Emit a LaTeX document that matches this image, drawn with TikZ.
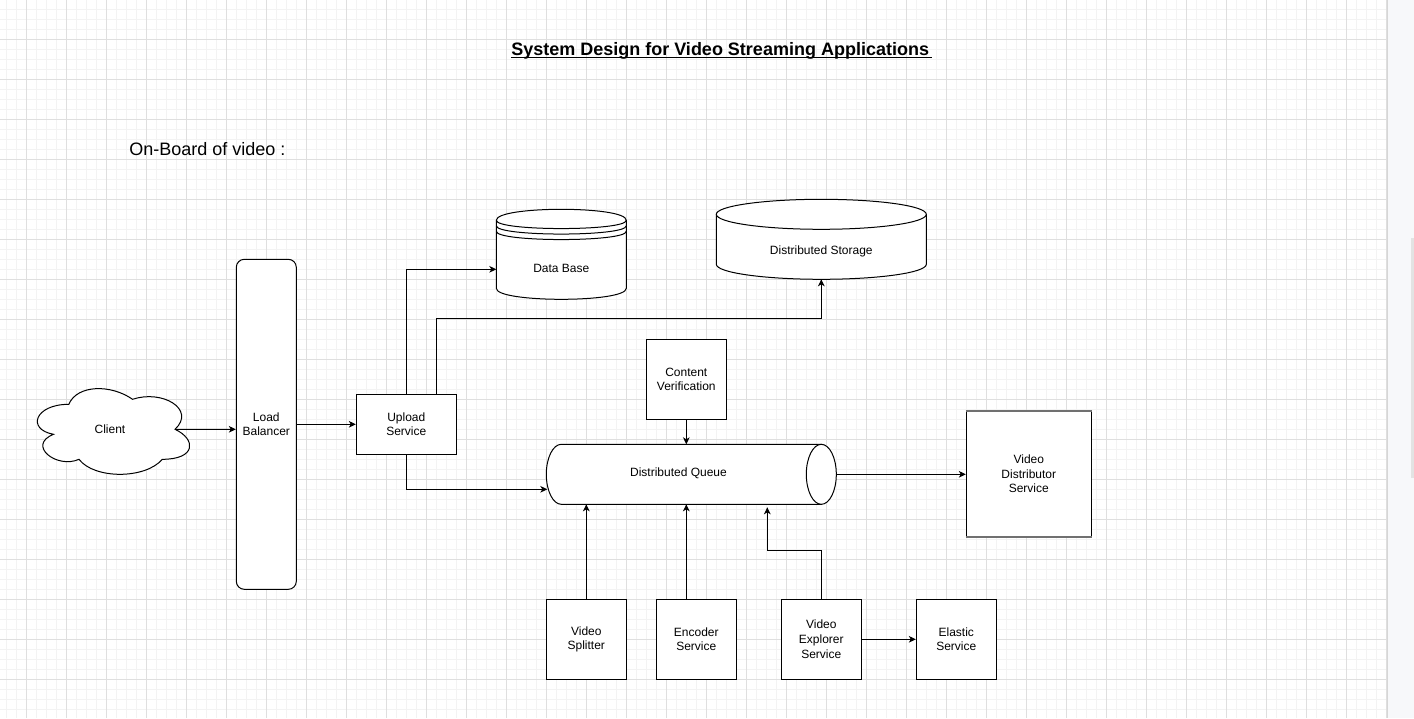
\documentclass[tikz,border=0pt]{standalone}
\usepackage{fontspec}
\setmainfont{Liberation Sans}
\usetikzlibrary{arrows.meta,calc}
\definecolor{gridminor}{HTML}{F3F3F3}
\definecolor{gridmajor}{HTML}{DFDFDF}
\definecolor{panel}{HTML}{F7F8FA}
\definecolor{panelline}{HTML}{D6D6D6}
\definecolor{thumb}{HTML}{E3E3E3}
\definecolor{vdedge}{HTML}{707070}
\newcommand\lblfont{\fontsize{9pt}{11pt}\selectfont}
\begin{document}
\begin{tikzpicture}[x=0.75pt,y=-0.75pt,
  box/.style={draw, fill=white, line width=0.75pt, inner sep=0pt, align=center, font=\lblfont},
  lbl/.style={inner sep=0pt, align=center, font=\lblfont},
  area/.style={inner sep=0pt, outer sep=0pt, draw=none},
  shapeline/.style={draw, fill=white, line width=0.75pt},
  arr/.style={line width=0.75pt, -{Stealth[length=5.25pt,width=5pt,inset=1.5pt]}}]
\useasboundingbox (0,0) rectangle (1414,718);
% background grid
\fill[white] (0,0) rectangle (1387.3,718);
\foreach \i in {0,...,138} \draw[gridminor, line width=0.75pt] (6.3+10*\i,0) -- (6.3+10*\i,718);
\foreach \i in {0,...,70} \draw[gridminor, line width=0.75pt] (0,9.3+10*\i) -- (1387.3,9.3+10*\i);
\foreach \i in {0,...,34} \draw[gridmajor, line width=0.75pt] (26.3+40*\i,0) -- (26.3+40*\i,718);
\foreach \i in {0,...,16} \draw[gridmajor, line width=0.75pt] (0,39.3+40*\i) -- (1387.3,39.3+40*\i);
% right panel
\fill[panel] (1387.3,0) rectangle (1414,718);
\draw[panelline, line width=1.1pt] (1387.3,0) -- (1387.3,718);
\fill[thumb] (1410.7,238.3) rectangle (1414,477.7);

% titles
\node[anchor=base west, inner sep=0pt, font=\fontsize{13.5pt}{16pt}\selectfont\bfseries] (title) at (511,55.5) {System Design for Video Streaming Applications};
\draw[line width=0.9pt] (title.base west) ++(0,1.9) -- (932,57.4);
\node[anchor=base west, inner sep=0pt, font=\fontsize{13.5pt}{16pt}\selectfont] (onboard) at (129,155) {On-Board of video :};

% client cloud
\begin{scope}[shift={(26.3,379.3)}]
\path[shapeline] (42.5,25) .. controls (8.5,25) and (0,50) .. (27.2,55)
  .. controls (0,66) and (30.6,90) .. (52.7,80)
  .. controls (68,100) and (119,100) .. (136,80)
  .. controls (170,80) and (170,60) .. (148.75,50)
  .. controls (170,30) and (136,10) .. (106.25,20)
  .. controls (85,5) and (51,5) .. (42.5,25) -- cycle;
\end{scope}
\node[area, minimum width=127.5pt, minimum height=75pt] (cloudbox) at (111.3,429.3) {};
\node[lbl] (client) at (110,429) {Client};

% load balancer
\node[box, rounded corners=6pt, minimum width=45pt, minimum height=247.5pt] (lb) at (266.3,424.3) {Load\\Balancer};
% upload service
\node[box, minimum width=75pt, minimum height=45pt] (up) at (406.3,424.3) {Upload\\Service};

% data base (datastore)
\begin{scope}[shift={(496.3,209.3)}]
\path[shapeline] (0,11) .. controls (0,-3.667) and (130,-3.667) .. (130,11) -- (130,79)
  .. controls (130,93.667) and (0,93.667) .. (0,79) -- cycle;
\draw[line width=0.75pt] (0,11) .. controls (0,22) and (130,22) .. (130,11);
\draw[line width=0.75pt] (0,16.5) .. controls (0,27.5) and (130,27.5) .. (130,16.5);
\draw[line width=0.75pt] (0,22) .. controls (0,33) and (130,33) .. (130,22);
\end{scope}
\node[area, minimum width=97.5pt, minimum height=67.5pt] (dbbox) at (561.3,254.3) {};
\node[lbl] (db) at (561.3,268) {Data Base};

% distributed storage (cylinder)
\path[shapeline] (716.3,214.3) -- (716.3,264.3) .. controls (716.3,272.58) and (763.31,279.3) .. (821.3,279.3)
  .. controls (879.29,279.3) and (926.3,272.58) .. (926.3,264.3) -- (926.3,214.3) -- cycle;
\draw[shapeline] (821.3,214.3) ellipse [x radius=78.75pt, y radius=11.25pt];
\node[area, minimum width=157.5pt, minimum height=60pt] (stbox) at (821.3,239.3) {};
\node[lbl] (st) at (821.3,251.5) {Distributed Storage};

% content verification
\node[box, minimum width=60pt, minimum height=60pt] (cv) at (686.3,379.3) {Content\\Verification};

% distributed queue (horizontal cylinder)
\path[shapeline] (821.3,444.3) -- (561.3,444.3) .. controls (553.02,444.3) and (546.3,457.73) .. (546.3,474.3)
  .. controls (546.3,490.87) and (553.02,504.3) .. (561.3,504.3) -- (821.3,504.3) -- cycle;
\draw[shapeline] (821.3,474.3) ellipse [x radius=11.25pt, y radius=22.5pt];
\node[area, minimum width=217.5pt, minimum height=45pt] (qbox) at (691.3,474.3) {};
\node[lbl] (q) at (678.5,473.6) {Distributed Queue};

% video distributor service
\node[box, minimum width=93.75pt, minimum height=93.75pt] (vd) at (1028.8,473.8) {Video\\Distributor\\Service};
\draw[vdedge, line width=1.2pt] (vd.north west) -- (vd.north east);
\draw[vdedge, line width=1.2pt] (vd.south west) -- (vd.south east);

% bottom services
\node[box, minimum width=60pt, minimum height=60pt] (vs) at (586.3,639.3) {Video\\Splitter};
\node[box, minimum width=60pt, minimum height=60pt] (enc) at (696.3,639.3) {Encoder\\Service};
\node[box, minimum width=60pt, minimum height=60pt] (ve) at (821.3,639.3) {Video\\Explorer\\Service};
\node[box, minimum width=60pt, minimum height=60pt] (el) at (956.3,639.3) {Elastic\\Service};

% connectors
\draw[arr] ($(cloudbox.west)!0.875!(cloudbox.east)$) -- (lb.west |- cloudbox.center);
\draw[arr] (lb.east |- up.west) -- (up.west);
\draw[arr] (up.north) |- ($(dbbox.west)+(0,15)$);
\draw[arr] ($(up.north)+(30,0)$) -- ++(0,-75) -| (stbox.south);
\draw[arr] (up.south) |- ($(qbox.west)+(1,15)$);
\draw[arr] (cv.south) -- (cv.south |- qbox.north);
\draw[arr] (qbox.east) -- (vd.west |- qbox.east);
\draw[arr] (vs.north) -- (vs.north |- qbox.south);
\draw[arr] ($(enc.north)+(-10,0)$) -- ($(qbox.south)+(-5,0)$);
\draw[arr] (ve.north) -- ++(0,-48) -| ($(qbox.south)+(76,3)$);
\draw[arr] (ve.east) -- (el.west);
\end{tikzpicture}
\end{document}
